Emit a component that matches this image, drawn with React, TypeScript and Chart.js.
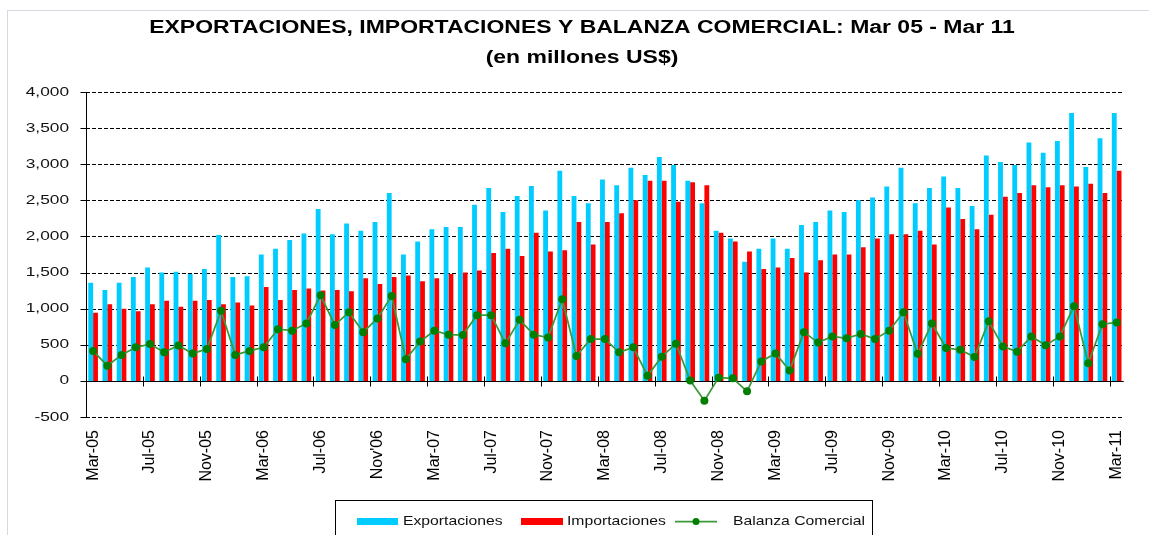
import React, { useEffect, useRef } from 'react';
import { Chart, registerables } from 'chart.js';

Chart.register(...registerables);

const categories = [
  'Mar-05', 'Abr-05', 'May-05', 'Jun-05', 'Jul-05', 'Ago-05', 'Sep-05', 'Oct-05', 'Nov-05', 'Dic-05',
  'Ene-06', 'Feb-06', 'Mar-06', 'Abr-06', 'May-06', 'Jun-06', 'Jul-06', 'Ago-06', 'Sep-06', 'Oct-06', 'Nov-06', 'Dic-06',
  'Ene-07', 'Feb-07', 'Mar-07', 'Abr-07', 'May-07', 'Jun-07', 'Jul-07', 'Ago-07', 'Sep-07', 'Oct-07', 'Nov-07', 'Dic-07',
  'Ene-08', 'Feb-08', 'Mar-08', 'Abr-08', 'May-08', 'Jun-08', 'Jul-08', 'Ago-08', 'Sep-08', 'Oct-08', 'Nov-08', 'Dic-08',
  'Ene-09', 'Feb-09', 'Mar-09', 'Abr-09', 'May-09', 'Jun-09', 'Jul-09', 'Ago-09', 'Sep-09', 'Oct-09', 'Nov-09', 'Dic-09',
  'Ene-10', 'Feb-10', 'Mar-10', 'Abr-10', 'May-10', 'Jun-10', 'Jul-10', 'Ago-10', 'Sep-10', 'Oct-10', 'Nov-10', 'Dic-10',
  'Ene-11', 'Feb-11', 'Mar-11',
];

const tickLabels = [
  'Mar-05', 'Jul-05', 'Nov-05', 'Mar-06', 'Jul-06', "Nov'06", 'Mar-07', 'Jul-07', 'Nov-07', 'Mar-08',
  'Jul-08', 'Nov-08', 'Mar-09', 'Jul-09', 'Nov-09', 'Mar-10', 'Jul-10', 'Nov-10', 'Mar-11',
];

const exportaciones = [
  1360, 1260, 1360, 1440, 1570, 1500, 1510, 1480, 1550, 2020,
  1440, 1450, 1750, 1830, 1950, 2040, 2380, 2030, 2180, 2080, 2200, 2600,
  1750, 1930, 2100, 2130, 2130, 2440, 2670, 2340, 2560, 2700, 2360, 2910,
  2560, 2460, 2790, 2710, 2950, 2850, 3100, 2990, 2770, 2460, 2080, 1970,
  1650, 1830, 1970, 1830, 2160, 2200, 2360, 2340, 2500, 2540, 2690, 2950,
  2460, 2670, 2830, 2670, 2420, 3120, 3030, 2990, 3300, 3160, 3320, 3710,
  2960, 3360, 3710,
];

const importaciones = [
  945, 1060, 1000, 965, 1060, 1110, 1025, 1110, 1120, 1060,
  1085, 1045, 1300, 1120, 1260, 1280, 1250, 1260, 1240, 1420, 1340, 1440,
  1460, 1380, 1420, 1480, 1500, 1530, 1770, 1830, 1730, 2050, 1790, 1810,
  2200, 1890, 2200, 2320, 2500, 2770, 2770, 2480, 2750, 2710, 2050, 1930,
  1790, 1550, 1570, 1700, 1500, 1670, 1750, 1750, 1850, 1970, 2030, 2030,
  2080, 1890, 2400, 2240, 2100, 2300, 2550, 2600, 2710, 2680, 2710, 2690,
  2730, 2600, 2910,
];

const balanza = [
  415, 210, 360, 465, 510, 395, 490, 380, 440, 970,
  360, 415, 465, 715, 695, 795, 1185, 775, 950, 675, 865, 1175,
  300, 545, 695, 640, 635, 910, 910, 520, 845, 640, 600, 1130,
  345, 580, 580, 395, 465, 70, 335, 515, 5, -275, 45, 35,
  -145, 270, 380, 145, 675, 530, 615, 590, 650, 580, 695, 950,
  375, 795, 455, 430, 330, 825, 475, 405, 615, 495, 615, 1035,
  245, 785, 810,
];

const yTickValues = [4000, 3500, 3000, 2500, 2000, 1500, 1000, 500, 0, -500];

const titleText = 'EXPORTACIONES, IMPORTACIONES Y BALANZA COMERCIAL: Mar 05 - Mar 11';
const subtitleText = '(en millones US$)';
const seriesNames = ['Exportaciones', 'Importaciones', 'Balanza Comercial'];

const BLUE = '#00CCFF';
const RED = '#FF0000';
const GREEN_LINE = '#3a9a3a';
const GREEN_DOT = '#007f00';
const FONT = '"Liberation Sans", Arial, sans-serif';

function stretchedText(ctx: CanvasRenderingContext2D, text: string, x: number, y: number, sx: number, align: CanvasTextAlign) {
  ctx.save();
  ctx.translate(x, y);
  ctx.scale(sx, 1);
  ctx.textAlign = align;
  ctx.textBaseline = 'middle';
  ctx.fillText(text, 0, 0);
  ctx.restore();
}

const decorPlugin = {
  id: 'decor',
  beforeDatasetsDraw(chart: any) {
    const { ctx, chartArea: a, scales } = chart;
    const x = scales.x;
    const y = scales.y;
    ctx.save();
    // outer frame
    ctx.strokeStyle = '#d5d9e1';
    ctx.lineWidth = 1;
    ctx.strokeRect(7.5, 10.5, 1300, 700);

    // dashed grid lines
    ctx.strokeStyle = '#000';
    ctx.lineWidth = 1;
    ctx.setLineDash([4, 2]);
    yTickValues.forEach((v) => {
      if (v === 0) return;
      const py = Math.round(y.getPixelForValue(v)) + 0.5;
      ctx.beginPath();
      ctx.moveTo(a.left, py);
      ctx.lineTo(a.right, py);
      ctx.stroke();
    });
    ctx.setLineDash([]);

    // y axis line + ticks
    const ax = Math.round(a.left) + 0.5;
    ctx.beginPath();
    ctx.moveTo(ax, Math.round(a.top));
    ctx.lineTo(ax, Math.round(a.bottom) + 1);
    ctx.stroke();
    yTickValues.forEach((v) => {
      const py = Math.round(y.getPixelForValue(v)) + 0.5;
      ctx.beginPath();
      ctx.moveTo(ax - 6, py);
      ctx.lineTo(ax, py);
      ctx.stroke();
    });

    // zero line (category axis)
    const zy = Math.round(y.getPixelForValue(0)) + 0.5;
    ctx.beginPath();
    ctx.moveTo(a.left, zy);
    ctx.lineTo(a.right, zy);
    ctx.stroke();

    // category tick marks every 4 months
    const step = x.getPixelForValue(1) - x.getPixelForValue(0);
    for (let i = 4; i < categories.length; i += 4) {
      const px = Math.round(x.getPixelForValue(i) - step / 2) + 0.5;
      ctx.beginPath();
      ctx.moveTo(px, zy - 5);
      ctx.lineTo(px, zy + 5);
      ctx.stroke();
    }
    ctx.restore();
  },
  afterDraw(chart: any) {
    const { ctx, scales } = chart;
    const y = scales.y;
    ctx.save();
    ctx.fillStyle = '#000';

    // title
    ctx.font = `bold 18px ${FONT}`;
    stretchedText(ctx, titleText, 582, 28, 1.276, 'center');
    stretchedText(ctx, subtitleText, 582, 58, 1.276, 'center');

    // y tick labels
    ctx.font = `13px ${FONT}`;
    ctx.fillStyle = '#111';
    yTickValues.forEach((v) => {
      stretchedText(ctx, v.toLocaleString('en-US'), 69, y.getPixelForValue(v), 1.33, 'right');
    });

    // legend
    ctx.strokeStyle = '#000';
    ctx.lineWidth = 1;
    ctx.strokeRect(335.5, 500.5, 537, 80);
    const ly = 521.5;
    ctx.fillStyle = BLUE;
    ctx.fillRect(357, ly - 3.5, 41, 7);
    ctx.fillStyle = RED;
    ctx.fillRect(521, ly - 3.5, 42, 7);
    ctx.strokeStyle = GREEN_LINE;
    ctx.lineWidth = 1.75;
    ctx.beginPath();
    ctx.moveTo(675, ly);
    ctx.lineTo(717, ly);
    ctx.stroke();
    ctx.fillStyle = GREEN_DOT;
    ctx.beginPath();
    ctx.arc(696, ly, 3.5, 0, Math.PI * 2);
    ctx.fill();

    ctx.font = `13px ${FONT}`;
    ctx.fillStyle = '#111';
    stretchedText(ctx, seriesNames[0], 403, ly, 1.21, 'left');
    stretchedText(ctx, seriesNames[1], 567, ly, 1.21, 'left');
    stretchedText(ctx, seriesNames[2], 733, ly, 1.21, 'left');
    ctx.restore();
  },
};

export default function App() {
  const canvasRef = useRef<HTMLCanvasElement | null>(null);

  useEffect(() => {
    if (!canvasRef.current) return;
    const chart = new Chart(canvasRef.current, {
      type: 'bar',
      data: {
        labels: categories,
        datasets: [
          {
            type: 'line',
            label: seriesNames[2],
            data: balanza,
            borderColor: GREEN_LINE,
            borderWidth: 1.75,
            pointRadius: 4,
            pointBackgroundColor: GREEN_DOT,
            pointBorderColor: GREEN_DOT,
            pointBorderWidth: 0,
            tension: 0,
            order: 0,
          } as any,
          {
            type: 'bar',
            label: seriesNames[0],
            data: exportaciones,
            backgroundColor: BLUE,
            borderWidth: 0,
            categoryPercentage: 0.68,
            barPercentage: 1.0,
            order: 1,
          },
          {
            type: 'bar',
            label: seriesNames[1],
            data: importaciones,
            backgroundColor: RED,
            borderWidth: 0,
            categoryPercentage: 0.68,
            barPercentage: 1.0,
            order: 2,
          },
        ],
      },
      options: {
        animation: false,
        responsive: true,
        maintainAspectRatio: false,
        layout: { padding: { top: 92, right: 20, left: 0, bottom: 0 } },
        plugins: {
          legend: { display: false },
          title: { display: false },
          tooltip: { enabled: false },
        },
        scales: {
          x: {
            offset: true,
            grid: { display: false, drawTicks: false },
            border: { display: false },
            ticks: {
              autoSkip: false,
              minRotation: 90,
              maxRotation: 90,
              padding: 13,
              color: '#000',
              font: { family: FONT, size: 16 },
              callback: (_v: any, i: number) => (i % 4 === 0 ? tickLabels[i / 4] : ''),
            },
            afterFit: (s: any) => {
              s.height = 118;
            },
          },
          y: {
            min: -500,
            max: 4000,
            ticks: { stepSize: 500, display: false },
            grid: { display: false, drawTicks: false },
            border: { display: false },
            afterFit: (s: any) => {
              s.width = 86;
            },
          },
        },
      } as any,
      plugins: [decorPlugin],
    });
    return () => chart.destroy();
  }, []);

  return (
    <div style={{ position: 'absolute', left: 0, top: 0, width: 1149, height: 535, background: '#fff' }}>
      <canvas ref={canvasRef} />
    </div>
  );
}
